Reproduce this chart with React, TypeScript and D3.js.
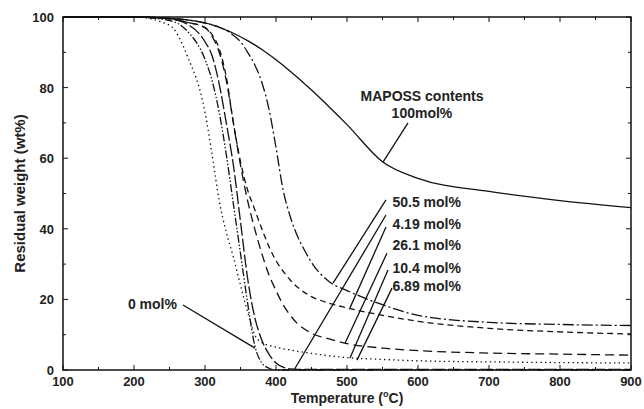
import React, { useEffect, useRef } from "react";
import * as d3 from "d3";

// temperature grid (°C) shared by all TGA curves
const temps = [100, 200, 250, 275, 300, 310, 320, 330, 340, 350, 360, 370, 380, 390, 400, 410, 420, 430, 440, 450, 475, 500, 550, 600, 700, 800, 900];

// residual weight (wt%) per MAPOSS content
const w100 = [100, 100, 99.6, 99.2, 98.3, 97.8, 97.1, 96.3, 95.4, 94.4, 93.3, 92.1, 90.8, 89.4, 87.9, 86.3, 84.6, 82.9, 81.1, 79.3, 74.5, 69.5, 59, 54.3, 50.6, 48, 46];
const w50 = [100, 100, 99.6, 99.2, 98.3, 97.8, 97.1, 96.2, 94.8, 93, 90, 86.5, 81.5, 74, 63, 51, 43.5, 38, 34, 30.5, 25, 22.5, 18.5, 15.5, 13.5, 12.9, 12.6];
const w4 = [100, 100, 99.5, 98.5, 97, 95, 91, 83, 70, 59, 51, 45.5, 40, 35, 31, 28, 25.5, 23.5, 22, 20.8, 18.9, 17.6, 15.5, 13.8, 11.8, 10.8, 10.2];
const w26 = [100, 100, 99.5, 98.5, 97, 94.5, 90, 82, 70, 58, 48, 40, 33, 27, 22.5, 18.5, 15.5, 13.2, 11.6, 10.4, 8.8, 7.5, 6.2, 5.5, 4.8, 4.5, 4.2];
const w10 = [100, 100, 97.7, 89, 73, 61, 48, 39, 32, 24, 16.5, 10, 7.8, 7, 6.5, 6, 5.7, 5.3, 5, 4.7, 4, 3.5, 3, 2.6, 2.3, 2.1, 2.0];
const w6 = [100, 100, 99.5, 98, 93, 89, 81, 70, 58, 42, 26, 15, 8.5, 4.5, 2, 0.8, 0.3, 0.2, 0.2, 0.2, 0.2, 0.2, 0.2, 0.2, 0.2, 0.2, 0.2];
const w0 = [100, 100, 99, 96, 88, 82, 73, 61, 47, 33, 19, 7, 2, 0.5, 0, 0, 0, 0, 0, 0, 0, 0, 0, 0, 0, 0, 0];

const seriesValues = [w100, w50, w4, w26, w10, w6, w0];
const seriesDash = ["", "11,3,2,3", "6,4", "9,5", "1.4,3.2", "13,3", "8,2,1.5,2,1.5,2"];

// curve labels on the right and their leader lines (label end -> curve point)
const labelText = ["50.5 mol%", "4.19 mol%", "26.1 mol%", "10.4 mol%", "6.89 mol%"];
const labelWeight = [46.2, 40.0, 34.0, 27.5, 22.3];
const leaderFromT = [554.9, 554.9, 556.3, 557.7, 563.4, 554.9];
const leaderFromW = [48.2, 40.5, 33.1, 28.3, 23.2, 43.9];
const leaderToT = [480.3, 504.2, 497.2, 504.2, 514, 425.4];
const leaderToW = [24.6, 17.6, 7.6, 3.4, 2.8, 0];

const xTicks = [100, 200, 300, 400, 500, 600, 700, 800, 900];
const yTicks = [0, 20, 40, 60, 80, 100];

const W = 644;
const H = 409;
const margin = { top: 17, right: 13, bottom: 39, left: 63 };
const font = "'Liberation Sans', Arial, sans-serif";

const App = () => {
  const svgRef = useRef<SVGSVGElement>(null);

  useEffect(() => {
    const svg = d3.select(svgRef.current);
    svg.selectAll("*").remove();

    const x = d3.scaleLinear().domain([100, 900]).range([margin.left, W - margin.right]);
    const y = d3.scaleLinear().domain([0, 100]).range([H - margin.bottom, margin.top]);

    const g = svg.append("g");

    // curves
    const line = d3
      .line<number>()
      .x((d, i) => x(temps[i]))
      .y(d => y(d))
      .curve(d3.curveMonotoneX);

    seriesValues.forEach((vals, i) => {
      g.append("path")
        .attr("d", line(vals) || "")
        .attr("fill", "none")
        .attr("stroke", "#111")
        .attr("stroke-width", 1.3)
        .attr("stroke-dasharray", seriesDash[i] || null);
    });

    // frame
    g.append("rect")
      .attr("x", x(100))
      .attr("y", y(100))
      .attr("width", x(900) - x(100))
      .attr("height", y(0) - y(100))
      .attr("fill", "none")
      .attr("stroke", "#111")
      .attr("stroke-width", 1.5);

    // inward ticks on all four sides
    const xAll = d3.range(100, 901, 50);
    const yAll = d3.range(0, 101, 10);
    xAll.forEach(t => {
      const len = t % 100 === 0 ? 5 : 3;
      g.append("line").attr("x1", x(t)).attr("x2", x(t)).attr("y1", y(0)).attr("y2", y(0) - len).attr("stroke", "#111");
      g.append("line").attr("x1", x(t)).attr("x2", x(t)).attr("y1", y(100)).attr("y2", y(100) + len).attr("stroke", "#111");
    });
    yAll.forEach(v => {
      const len = v % 20 === 0 ? 5 : 3;
      g.append("line").attr("x1", x(100)).attr("x2", x(100) + len).attr("y1", y(v)).attr("y2", y(v)).attr("stroke", "#111");
      g.append("line").attr("x1", x(900)).attr("x2", x(900) - len).attr("y1", y(v)).attr("y2", y(v)).attr("stroke", "#111");
    });

    // tick labels
    g.selectAll(".xl")
      .data(xTicks)
      .enter()
      .append("text")
      .attr("x", d => x(d))
      .attr("y", y(0) + 16)
      .attr("text-anchor", "middle")
      .attr("font-family", font)
      .attr("font-weight", "bold")
      .attr("font-size", 13)
      .attr("fill", "#222")
      .text(d => d);

    g.selectAll(".yl")
      .data(yTicks)
      .enter()
      .append("text")
      .attr("x", x(100) - 9)
      .attr("y", d => y(d) + 5)
      .attr("text-anchor", "end")
      .attr("font-family", font)
      .attr("font-weight", "bold")
      .attr("font-size", 13)
      .attr("fill", "#222")
      .text(d => d);

    // axis titles
    const xt = g
      .append("text")
      .attr("x", (x(100) + x(900)) / 2)
      .attr("y", H - 6)
      .attr("text-anchor", "middle")
      .attr("font-family", font)
      .attr("font-weight", "bold")
      .attr("font-size", 14)
      .attr("fill", "#222");
    xt.append("tspan").text("Temperature (");
    xt.append("tspan").attr("font-size", 9).attr("dy", -6).text("o");
    xt.append("tspan").attr("dy", 6).text("C)");

    g.append("text")
      .attr("transform", `translate(25,${(y(0) + y(100)) / 2}) rotate(-90)`)
      .attr("text-anchor", "middle")
      .attr("font-family", font)
      .attr("font-weight", "bold")
      .attr("font-size", 15)
      .attr("fill", "#222")
      .text("Residual weight (wt%)");

    // annotations
    const ann = (txt: string, t: number, w: number, anchor: string) =>
      g.append("text")
        .attr("x", x(t))
        .attr("y", y(w))
        .attr("text-anchor", anchor)
        .attr("font-family", font)
        .attr("font-weight", "bold")
        .attr("font-size", 14)
        .attr("fill", "#222")
        .text(txt);

    ann("MAPOSS contents", 605.6, 76.2, "middle");
    ann("100mol%", 605.6, 71.4, "middle");
    ann("0 mol%", 226, 17.2, "middle");
    labelText.forEach((txt, i) => ann(txt, 564, labelWeight[i], "start"));

    const leader = (t1: number, w1: number, t2: number, w2: number) =>
      g.append("line")
        .attr("x1", x(t1))
        .attr("y1", y(w1))
        .attr("x2", x(t2))
        .attr("y2", y(w2))
        .attr("stroke", "#111")
        .attr("stroke-width", 1.3);

    leader(585.9, 70, 550.7, 58.9);
    leader(269, 18.4, 370.4, 6.2);
    leaderFromT.forEach((t, i) => leader(t, leaderFromW[i], leaderToT[i], leaderToW[i]));
  }, []);

  return (
    <svg
      ref={svgRef}
      width={W}
      height={H}
      style={{ position: "absolute", left: 0, top: 0, background: "#fff" }}
    />
  );
};

export default App;
